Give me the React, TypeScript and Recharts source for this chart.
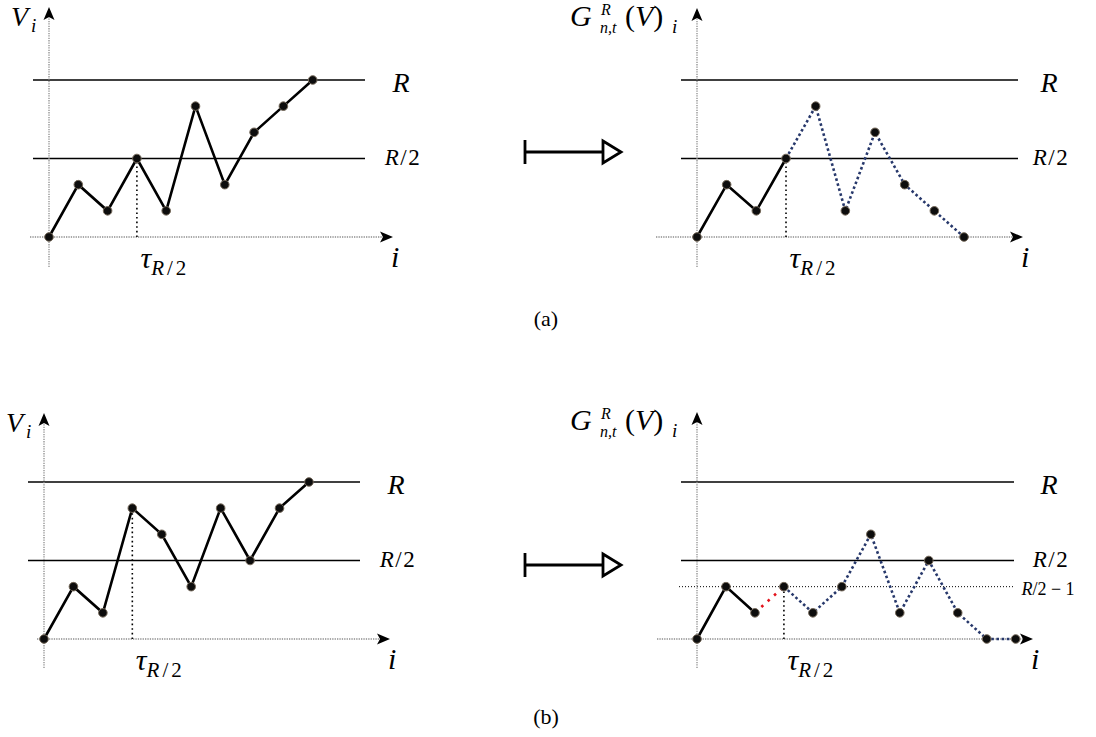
import React from 'react';
import { LineChart, Line, XAxis, YAxis, ReferenceLine } from 'recharts';

const FONT = "'Liberation Serif', 'DejaVu Serif', 'Noto Serif', 'Times New Roman', Times, serif";
const serif: React.CSSProperties = { fontFamily: FONT };

// ---------------- data ----------------
const aLeftValues = [0, 2, 1, 3, 1, 5, 2, 4, 5, 6];
const aRightValues = [0, 2, 1, 3, 5, 1, 4, 2, 1, 0];
const bLeftValues = [0, 2, 1, 5, 4, 2, 5, 3, 5, 6];
const bRightValues = [0, 2, 1, 2, 1, 2, 4, 1, 3, 1, 0, 0];
const levelR = 6;
const levelHalf = 3;
const levelHalfMinusOne = 2;
const tauIndex = 3;
const aRightSolidEnd = 3;
const bRightSolidEnd = 2;
const bRightRedEnd = 3;

type Row = { i: number; pt: number; solid: number | null; red: number | null; blue: number | null };

function buildRows(values: number[], solidEnd: number, redEnd: number | null): Row[] {
  const blueStart = redEnd !== null ? redEnd : solidEnd;
  const hasBlue = solidEnd < values.length - 1;
  return values.map((v, i) => ({
    i,
    pt: v,
    solid: i <= solidEnd ? v : null,
    red: redEnd !== null && i >= solidEnd && i <= redEnd ? v : null,
    blue: hasBlue && i >= blueStart ? v : null,
  }));
}

// ---------------- layout (page pixels) ----------------
type Geo = {
  left: number; top: number; width: number; height: number;
  x0: number; dx: number; y0: number; dy: number;
  xAxisFrom: number; xAxisTo: number; yAxisFrom: number; yAxisTo: number;
  lineFrom: number; lineTo: number;
};

const geoAL: Geo = { left: 0, top: 0, width: 470, height: 300, x0: 49, dx: 29.3, y0: 237, dy: 26.17,
  xAxisFrom: 30, xAxisTo: 393, yAxisFrom: 267, yAxisTo: 7, lineFrom: 33, lineTo: 365 };
const geoAR: Geo = { left: 560, top: 0, width: 536, height: 300, x0: 697, dx: 29.67, y0: 237, dy: 26.17,
  xAxisFrom: 656, xAxisTo: 1023, yAxisFrom: 267, yAxisTo: 8, lineFrom: 681, lineTo: 1018 };
const geoBL: Geo = { left: 0, top: 390, width: 470, height: 320, x0: 44, dx: 29.44, y0: 639, dy: 26.17,
  xAxisFrom: 37, xAxisTo: 390, yAxisFrom: 668, yAxisTo: 413, lineFrom: 28, lineTo: 360 };
const geoBR: Geo = { left: 560, top: 390, width: 536, height: 320, x0: 697, dx: 28.97, y0: 639, dy: 26.17,
  xAxisFrom: 657, xAxisTo: 1033, yAxisFrom: 668, yAxisTo: 412, lineFrom: 681, lineTo: 1014 };

// ---------------- shapes & labels ----------------
const ArrowAxis = (props: any) => {
  const { x1, y1, x2, y2 } = props;
  const ang = Math.atan2(y2 - y1, x2 - x1);
  const L = 13, W = 5.5, inset = 3;
  const c = Math.cos(ang), s = Math.sin(ang);
  const bx = x2 - L * c, by = y2 - L * s;
  const nx = -s, ny = c;
  const ix = x2 - (L - inset) * c, iy = y2 - (L - inset) * s;
  const d = `M${x2},${y2} L${bx + nx * W},${by + ny * W} L${ix},${iy} L${bx - nx * W},${by - ny * W} Z`;
  return (
    <g>
      <line x1={x1} y1={y1} x2={ix} y2={iy} stroke="#8d8d8d" strokeWidth={1.3} strokeDasharray="1.3 1.1" />
      <path d={d} fill="#000" />
    </g>
  );
};

const labelR = (props: any) => {
  const vb = props.viewBox;
  return (
    <text x={vb.x + 368} y={vb.y + 12} textAnchor="middle" style={serif} fontSize={28} fontStyle="italic" fill="#000">R</text>
  );
};
const labelHalf = (props: any) => {
  const vb = props.viewBox;
  return (
    <text x={vb.x + 370} y={vb.y + 7} textAnchor="middle" style={serif} fontSize={23} letterSpacing={1.5} fill="#000">
      <tspan fontStyle="italic">R</tspan>/2
    </text>
  );
};
const labelHalfMinusOne = (props: any) => {
  const vb = props.viewBox;
  return (
    <text x={vb.x + 369} y={vb.y + 8} textAnchor="middle" style={serif} fontSize={18} fill="#000">
      <tspan fontStyle="italic">R</tspan>/2 − 1
    </text>
  );
};
const labelI = (props: any) => {
  const vb = props.viewBox;
  return (
    <text x={vb.x + vb.width - 2} y={vb.y + 30} style={serif} fontSize={30} fontStyle="italic" fill="#000">i</text>
  );
};
const labelTau = (props: any) => {
  const vb = props.viewBox;
  return (
    <text x={vb.x + 28} y={vb.y + vb.height + 31} textAnchor="middle" style={serif} fill="#000">
      <tspan fontSize={30} fontStyle="italic">τ</tspan>
      <tspan fontSize={21} dy={7} letterSpacing={3}><tspan fontStyle="italic">R</tspan>/2</tspan>
    </text>
  );
};
const labelV = (props: any) => {
  const vb = props.viewBox;
  return (
    <g fill="#000" fontStyle="italic">
      <text x={vb.x - 38} y={vb.y + 19} style={serif} fontSize={28}>V</text>
      <text x={vb.x - 18} y={vb.y + 25} style={serif} fontSize={19}>i</text>
    </g>
  );
};
const labelG = (props: any) => {
  const vb = props.viewBox;
  const x = vb.x, y = vb.y;
  return (
    <g fill="#000">
      <text x={x - 127} y={y + 18} style={serif} fontSize={30} fontStyle="italic">G</text>
      <text x={x - 96} y={y + 7} style={serif} fontSize={16} fontStyle="italic">R</text>
      <text x={x - 97} y={y + 25} style={serif} fontSize={16} fontStyle="italic">n,t</text>
      <text x={x - 72} y={y + 18} style={serif} fontSize={30}>(<tspan fontStyle="italic">V</tspan>)</text>
      <text x={x - 25} y={y + 25} style={serif} fontSize={19} fontStyle="italic">i</text>
    </g>
  );
};

// ---------------- panel ----------------
function Panel({ geo, values, solidEnd, redEnd, yLabel, showHalfMinusOne }: {
  geo: Geo; values: number[]; solidEnd: number; redEnd: number | null; yLabel: any; showHalfMinusOne: boolean;
}) {
  const rows = buildRows(values, solidEnd, redEnd);
  const toX = (px: number) => (px - geo.x0) / geo.dx;
  const toY = (py: number) => (geo.y0 - py) / geo.dy;
  const xDomain = [toX(geo.left), toX(geo.left + geo.width)];
  const yDomain = [toY(geo.top + geo.height), toY(geo.top)];
  const lf = toX(geo.lineFrom), lt = toX(geo.lineTo);
  return (
    <div style={{ position: 'absolute', left: geo.left, top: geo.top }}>
      <LineChart width={geo.width} height={geo.height} data={rows} margin={{ top: 0, right: 0, bottom: 0, left: 0 }}>
        <XAxis type="number" dataKey="i" domain={xDomain} hide allowDataOverflow />
        <YAxis type="number" domain={yDomain} hide allowDataOverflow />
        <ReferenceLine ifOverflow="visible" segment={[{ x: lf, y: levelR }, { x: lt, y: levelR }]} stroke="#000" strokeWidth={1.3} label={labelR} />
        <ReferenceLine ifOverflow="visible" segment={[{ x: lf, y: levelHalf }, { x: lt, y: levelHalf }]} stroke="#000" strokeWidth={1.3} label={labelHalf} />
        {showHalfMinusOne && (
          <ReferenceLine ifOverflow="visible" segment={[{ x: toX(geo.lineFrom - 2), y: levelHalfMinusOne }, { x: lt, y: levelHalfMinusOne }]} stroke="#000" strokeWidth={1} strokeDasharray="1 2" label={labelHalfMinusOne} />
        )}
        <ReferenceLine ifOverflow="visible" segment={[{ x: toX(geo.xAxisFrom), y: 0 }, { x: toX(geo.xAxisTo), y: 0 }]} shape={ArrowAxis} label={labelI} />
        <ReferenceLine ifOverflow="visible" segment={[{ x: 0, y: toY(geo.yAxisFrom) }, { x: 0, y: toY(geo.yAxisTo) }]} shape={ArrowAxis} label={yLabel} />
        <ReferenceLine ifOverflow="visible" segment={[{ x: tauIndex, y: 0 }, { x: tauIndex, y: values[tauIndex] }]} stroke="#000" strokeWidth={1.6} strokeDasharray="1.6 3" label={labelTau} />
        <Line type="linear" dataKey="solid" stroke="#000" strokeWidth={2.6} dot={false} activeDot={false} isAnimationActive={false} />
        <Line type="linear" dataKey="red" stroke="#e3121b" strokeWidth={2.6} strokeDasharray="2.6 6" dot={false} activeDot={false} isAnimationActive={false} />
        <Line type="linear" dataKey="blue" stroke="#27386b" strokeWidth={2.6} strokeDasharray="2.6 2.6" dot={false} activeDot={false} isAnimationActive={false} />
        <Line type="linear" dataKey="pt" stroke="none" dot={{ r: 4.3, fill: '#0d0d0d', stroke: '#75695a', strokeWidth: 1 }} activeDot={false} isAnimationActive={false} />
      </LineChart>
    </div>
  );
}

function MapsTo({ y }: { y: number }) {
  return (
    <g stroke="#000" strokeWidth={2.8} fill="none">
      <line x1={525} y1={y - 12} x2={525} y2={y + 12} />
      <line x1={525} y1={y} x2={603} y2={y} />
      <path d={`M603,${y - 11} L621,${y} L603,${y + 11} Z`} fill="#fff" />
    </g>
  );
}

export default function App() {
  return (
    <div style={{ position: 'absolute', left: 0, top: 0, width: 1096, height: 737, background: '#fff', overflow: 'hidden', fontFamily: FONT }}>
      <Panel geo={geoAL} values={aLeftValues} solidEnd={aLeftValues.length - 1} redEnd={null} yLabel={labelV} showHalfMinusOne={false} />
      <Panel geo={geoAR} values={aRightValues} solidEnd={aRightSolidEnd} redEnd={null} yLabel={labelG} showHalfMinusOne={false} />
      <Panel geo={geoBL} values={bLeftValues} solidEnd={bLeftValues.length - 1} redEnd={null} yLabel={labelV} showHalfMinusOne={false} />
      <Panel geo={geoBR} values={bRightValues} solidEnd={bRightSolidEnd} redEnd={bRightRedEnd} yLabel={labelG} showHalfMinusOne={true} />
      <svg width={1096} height={737} style={{ position: 'absolute', left: 0, top: 0, pointerEvents: 'none' }}>
        <MapsTo y={152} />
        <MapsTo y={565} />
        <text x={546} y={326} textAnchor="middle" style={serif} fontSize={22} fill="#000">(a)</text>
        <text x={546} y={724} textAnchor="middle" style={serif} fontSize={22} fill="#000">(b)</text>
      </svg>
    </div>
  );
}
